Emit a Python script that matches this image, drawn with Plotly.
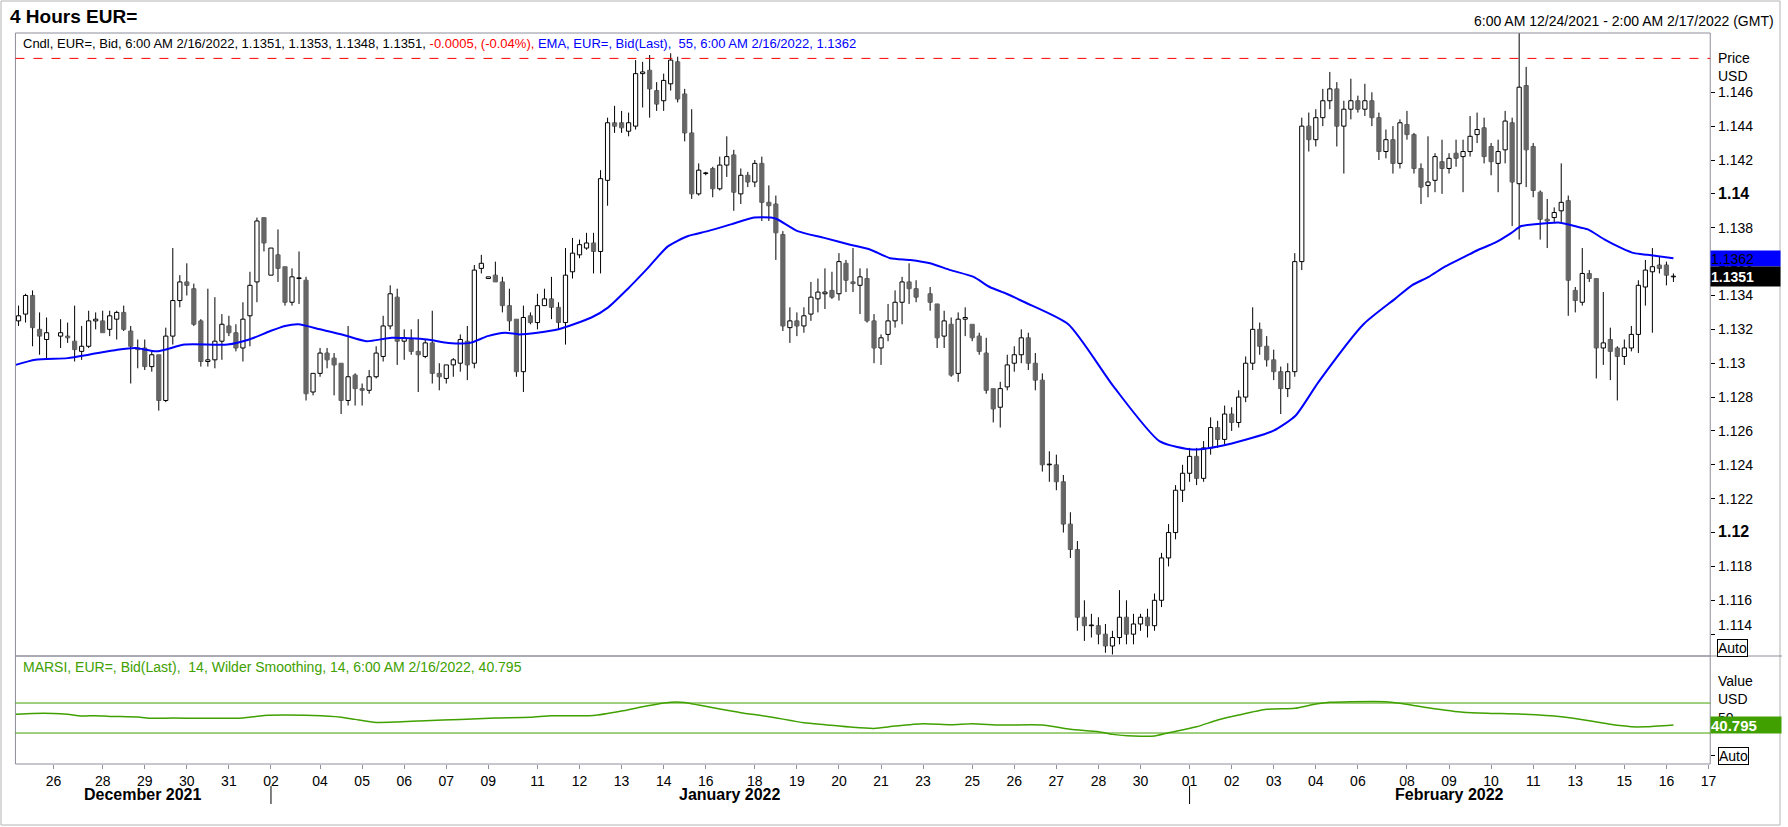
import pandas as pd
import plotly.graph_objects as go

W, H = 1788, 827

# 4-hour bar slots (bars end at 02,06,...,22 GMT); Saturday skipped, Sunday only 22:00
slot_times = pd.date_range("2021-12-24 06:00", "2022-02-17 02:00", freq="4h")
slot_times = [t for t in slot_times if t.weekday() < 5 or (t.weekday() == 6 and t.hour == 22)]

# candle values per slot (None = no bar)
opens = [
    1.1325, 1.1329, 1.1340, 1.1320, 1.1314,
    None,
    1.1316, 1.1316, 1.1313, 1.1307, 1.1310, 1.1325,
    1.1325, 1.1320, 1.1326, 1.1330, 1.1319, 1.1309,
    1.1309, 1.1298, 1.1305, 1.1278, 1.1316, 1.1337,
    1.1348, 1.1344, 1.1325, 1.1301, 1.1302, 1.1313,
    1.1322, 1.1318, 1.1309, 1.1328, 1.1348, 1.1386,
    1.1352,
    1.1364, 1.1357, 1.1336, 1.1350, 1.1349, 1.1283,
    1.1294, 1.1306, 1.1303, 1.1300, 1.1278, 1.1293,
    1.1285, 1.1284, 1.1292, 1.1304, 1.1322, 1.1339,
    1.1313, 1.1314, 1.1307, 1.1304, 1.1312, 1.1294,
    1.1291, 1.1299, 1.1300, 1.1313, 1.1300, 1.1356,
    1.1350,
    1.1352, 1.1348, 1.1334, 1.1326, 1.1295, 1.1328,
    1.1324, 1.1334, 1.1338, 1.1333, 1.1324, 1.1354,
    1.1364, 1.1368, 1.1371, 1.1366, 1.1408, 1.1442,
    1.1442, 1.1437, 1.1440, 1.1471, 1.1473, 1.1461,
    1.1455, 1.1465, 1.1478, 1.1459, 1.1436, 1.1400,
    1.1412,
    1.1415, 1.1403, 1.1417, 1.1423, 1.1400, 1.1411,
    1.1407, 1.1418, 1.1395, 1.1394, 1.1376, 1.1321,
    1.1325, 1.1322, 1.1329, 1.1338, 1.1341, 1.1343,
    1.1341, 1.1359, 1.1348, 1.1346, 1.1350, 1.1325,
    1.1309, 1.1317, 1.1325, 1.1336, 1.1348, 1.1344,
    None,
    1.1341, 1.1335, 1.1316, 1.1323, 1.1294, 1.1326,
    1.1323, 1.1316, 1.1306, 1.1285, 1.1274, 1.1286,
    1.1300, 1.1305, 1.1315, 1.1300, 1.1290, 1.1240,
    1.1240, 1.1230, 1.1205, 1.1190, 1.1150, 1.1145,
    1.1145, 1.1140, 1.1133, 1.1138, 1.1150, 1.1140,
    1.1146,
    1.1150, 1.1145, 1.1160, 1.1185, 1.1200, 1.1225,
    1.1235, 1.1245, 1.1232, 1.1250, 1.1262, 1.1255,
    1.1270, 1.1265, 1.1280, 1.1300, 1.1320, 1.1310,
    1.1302, 1.1295, 1.1285, 1.1295, 1.1360, 1.1440,
    1.1432, 1.1445, 1.1455, 1.1462, 1.1440, 1.1450,
    1.1455,
    1.1450, 1.1455, 1.1445, 1.1425, 1.1432, 1.1418,
    1.1441, 1.1435, 1.1415, 1.1405, 1.1408, 1.1419,
    1.1415, 1.1424, 1.1422, 1.1425, 1.1435, 1.1439,
    1.1428, 1.1418, 1.1426, 1.1442, 1.1406, 1.1464,
    1.1428, 1.1401, 1.1385, 1.1386, 1.1390, 1.1396,
    1.1343,
    1.1336, 1.1353, 1.1350, 1.1309, 1.1314, 1.1309,
    1.1304, 1.1309, 1.1317, 1.1345, 1.1354, 1.1358,
    1.1358, 1.1351,
]
highs = [
    1.1334, 1.1341, 1.1343, 1.1330, 1.1327,
    None,
    1.1326, 1.1324, 1.1334, 1.1322, 1.1331, 1.1330,
    1.1331, 1.1331, 1.1331, 1.1334, 1.1322, 1.1314,
    1.1314, 1.1307, 1.1305, 1.1321, 1.1368, 1.1352,
    1.1359, 1.1347, 1.1326, 1.1344, 1.1339, 1.1329,
    1.1328, 1.1323, 1.1336, 1.1354, 1.1386, 1.1386,
    1.1368,
    1.1379, 1.1357, 1.1356, 1.1366, 1.1351, 1.1294,
    1.1309, 1.1309, 1.1306, 1.1300, 1.1322, 1.1294,
    1.1288, 1.1296, 1.1310, 1.1328, 1.1346, 1.1344,
    1.1320, 1.1320, 1.1326, 1.1314, 1.1331, 1.1300,
    1.1299, 1.1303, 1.1317, 1.1322, 1.1358, 1.1364,
    1.1351,
    1.1360, 1.1351, 1.1344, 1.1326, 1.1334, 1.1330,
    1.1341, 1.1344, 1.1351, 1.1336, 1.1368, 1.1374,
    1.1373, 1.1377, 1.1377, 1.1414, 1.1445, 1.1452,
    1.1449, 1.1448, 1.1479, 1.1478, 1.1482, 1.1466,
    1.1471, 1.1483, 1.1481, 1.1462, 1.1450, 1.1418,
    1.1413,
    1.1416, 1.1422, 1.1434, 1.1426, 1.1415, 1.1413,
    1.1420, 1.1422, 1.1405, 1.1399, 1.1378, 1.1333,
    1.1330, 1.1333, 1.1348, 1.1350, 1.1356, 1.1354,
    1.1365, 1.1361, 1.1368, 1.1356, 1.1356, 1.1329,
    1.1317, 1.1335, 1.1343, 1.1351, 1.1359, 1.1349,
    None,
    1.1345, 1.1335, 1.1331, 1.1327, 1.1330, 1.1333,
    1.1323, 1.1318, 1.1315, 1.1285, 1.1289, 1.1305,
    1.1310, 1.1320, 1.1318, 1.1306, 1.1294, 1.1248,
    1.1246, 1.1234, 1.1212, 1.1195, 1.1160, 1.1152,
    1.1150, 1.1146, 1.1142, 1.1166, 1.1160, 1.1152,
    1.1152,
    1.1155, 1.1164, 1.1188, 1.1205, 1.1228, 1.1240,
    1.1250, 1.1250, 1.1254, 1.1268, 1.1266, 1.1275,
    1.1274, 1.1284, 1.1304, 1.1333, 1.1324, 1.1316,
    1.1308, 1.1298, 1.1300, 1.1365, 1.1445, 1.1448,
    1.1450, 1.1462, 1.1472, 1.1466, 1.1455, 1.1468,
    1.1458,
    1.1465, 1.1460, 1.1448, 1.1438, 1.1440, 1.1444,
    1.1449, 1.1436, 1.1418, 1.1434, 1.1424, 1.1432,
    1.1424, 1.1432, 1.1432, 1.1446, 1.1448, 1.1445,
    1.1430, 1.1432, 1.1449, 1.1445, 1.1495, 1.1475,
    1.1430, 1.1402, 1.1397, 1.1392, 1.1418, 1.1399,
    1.1345,
    1.1368, 1.1355, 1.1350, 1.1342, 1.1321, 1.1310,
    1.1314, 1.1322, 1.1349, 1.1361, 1.1368, 1.1363,
    1.1360, 1.1353,
]
lows = [
    1.1322, 1.1324, 1.1310, 1.1305, 1.1302,
    None,
    1.1309, 1.1312, 1.1301, 1.1302, 1.1309, 1.1320,
    1.1318, 1.1316, 1.1314, 1.1319, 1.1288, 1.1297,
    1.1296, 1.1295, 1.1272, 1.1277, 1.1311, 1.1333,
    1.1340, 1.1322, 1.1298, 1.1298, 1.1297, 1.1302,
    1.1316, 1.1307, 1.1301, 1.1310, 1.1336, 1.1366,
    1.1352,
    1.1348, 1.1334, 1.1334, 1.1335, 1.1278, 1.1281,
    1.1292, 1.1297, 1.1281, 1.1270, 1.1275, 1.1275,
    1.1275, 1.1282, 1.1291, 1.1301, 1.1320, 1.1299,
    1.1302, 1.1305, 1.1283, 1.1303, 1.1288, 1.1284,
    1.1288, 1.1292, 1.1295, 1.1290, 1.1297, 1.1353,
    1.1350,
    1.1348, 1.1330, 1.1319, 1.1292, 1.1283, 1.1323,
    1.1320, 1.1334, 1.1326, 1.1320, 1.1311, 1.1350,
    1.1362, 1.1367, 1.1353, 1.1353, 1.1393, 1.1436,
    1.1436, 1.1434, 1.1438, 1.1451, 1.1445, 1.1449,
    1.1449, 1.1461, 1.1454, 1.1431, 1.1397, 1.1399,
    1.1411,
    1.1398, 1.1402, 1.1410, 1.1390, 1.1394, 1.1404,
    1.1404, 1.1384, 1.1384, 1.1361, 1.1319, 1.1312,
    1.1316, 1.1318, 1.1325, 1.1330, 1.1332, 1.1338,
    1.1337, 1.1342, 1.1342, 1.1329, 1.1324, 1.1300,
    1.1299, 1.1313, 1.1321, 1.1323, 1.1335, 1.1336,
    None,
    1.1331, 1.1309, 1.1309, 1.1292, 1.1289, 1.1316,
    1.1313, 1.1305, 1.1282, 1.1265, 1.1262, 1.1284,
    1.1295, 1.1300, 1.1296, 1.1284, 1.1236, 1.1230,
    1.1225, 1.1200, 1.1185, 1.1142, 1.1136, 1.1138,
    1.1134, 1.1129, 1.1128, 1.1134, 1.1134, 1.1134,
    1.1142,
    1.1138, 1.1142, 1.1156, 1.1180, 1.1196, 1.1218,
    1.1230, 1.1228, 1.1230, 1.1246, 1.1250, 1.1252,
    1.1260, 1.1262, 1.1277, 1.1296, 1.1305, 1.1298,
    1.1290, 1.1270, 1.1280, 1.1292, 1.1355, 1.1425,
    1.1428, 1.1440, 1.1450, 1.1428, 1.1412, 1.1444,
    1.1448,
    1.1446, 1.1440, 1.1420, 1.1421, 1.1412, 1.1415,
    1.1432, 1.1412, 1.1394, 1.1398, 1.1401, 1.1400,
    1.1412, 1.1416, 1.1401, 1.1422, 1.1430, 1.1418,
    1.1411, 1.1401, 1.1418, 1.1381, 1.1373, 1.1404,
    1.1398, 1.1373, 1.1368, 1.1383, 1.1383, 1.1328,
    1.1330,
    1.1334, 1.1348, 1.1291, 1.1299, 1.1290, 1.1278,
    1.1299, 1.1307, 1.1306, 1.1334, 1.1318, 1.1353,
    1.1346, 1.1348,
]
closes = [
    1.1328, 1.1340, 1.1321, 1.1316, 1.1318,
    None,
    1.1318, 1.1315, 1.1308, 1.1310, 1.1325, 1.1326,
    1.1318, 1.1328, 1.1330, 1.1320, 1.1310, 1.1308,
    1.1298, 1.1305, 1.1278, 1.1316, 1.1337, 1.1348,
    1.1346, 1.1323, 1.1301, 1.1302, 1.1313, 1.1323,
    1.1318, 1.1309, 1.1326, 1.1346, 1.1384, 1.1371,
    1.1368,
    1.1356, 1.1336, 1.1351, 1.1350, 1.1282, 1.1294,
    1.1306, 1.1302, 1.1299, 1.1278, 1.1292, 1.1285,
    1.1284, 1.1292, 1.1306, 1.1322, 1.1341, 1.1313,
    1.1315, 1.1307, 1.1305, 1.1312, 1.1294, 1.1292,
    1.1299, 1.1302, 1.1314, 1.1299, 1.1355, 1.1359,
    1.1351,
    1.1348, 1.1334, 1.1325, 1.1295, 1.1327, 1.1324,
    1.1334, 1.1338, 1.1333, 1.1324, 1.1352, 1.1365,
    1.1370, 1.1371, 1.1366, 1.1409, 1.1442, 1.1440,
    1.1439, 1.1442, 1.1471, 1.1472, 1.1462, 1.1453,
    1.1467, 1.1479, 1.1456, 1.1436, 1.1400, 1.1414,
    1.1412,
    1.1403, 1.1417, 1.1422, 1.1401, 1.1411, 1.1407,
    1.1418, 1.1395, 1.1393, 1.1377, 1.1322, 1.1325,
    1.1322, 1.1328, 1.1339, 1.1342, 1.1342, 1.1339,
    1.1360, 1.1349, 1.1347, 1.1351, 1.1325, 1.1309,
    1.1315, 1.1325, 1.1336, 1.1348, 1.1344, 1.1339,
    None,
    1.1336, 1.1315, 1.1325, 1.1293, 1.1326, 1.1327,
    1.1315, 1.1307, 1.1284, 1.1273, 1.1285, 1.1299,
    1.1305, 1.1315, 1.1300, 1.1290, 1.1240, 1.1240,
    1.1230, 1.1205, 1.1190, 1.1150, 1.1145, 1.1145,
    1.1140, 1.1133, 1.1138, 1.1150, 1.1140, 1.1146,
    1.1150,
    1.1145, 1.1160, 1.1185, 1.1200, 1.1225, 1.1235,
    1.1245, 1.1232, 1.1250, 1.1262, 1.1255, 1.1270,
    1.1265, 1.1280, 1.1300, 1.1320, 1.1310, 1.1302,
    1.1295, 1.1285, 1.1295, 1.1360, 1.1440, 1.1432,
    1.1445, 1.1455, 1.1462, 1.1440, 1.1450, 1.1455,
    1.1450,
    1.1455, 1.1445, 1.1425, 1.1432, 1.1418, 1.1442,
    1.1435, 1.1415, 1.1404, 1.1407, 1.1422, 1.1415,
    1.1421, 1.1421, 1.1425, 1.1434, 1.1438, 1.1422,
    1.1419, 1.1425, 1.1443, 1.1407, 1.1463, 1.1426,
    1.1402, 1.1385, 1.1384, 1.1389, 1.1395, 1.1349,
    1.1337,
    1.1353, 1.1350, 1.1309, 1.1312, 1.1307, 1.1304,
    1.1309, 1.1317, 1.1346, 1.1355, 1.1357, 1.1356,
    1.1352, 1.1351,
]

# EMA(55) (slot, value)
ema_bar = [-0.4, 2.4, 7, 10, 14.1, 16.7, 19.7, 23.7, 29.8, 32.9, 35.9, 38, 39.9, 43, 46.1,
           49.6, 53.2, 58.3, 61.3, 64.4, 66.9, 69.4, 71.4, 74, 77, 81.7, 84.1, 86.9, 89.7,
           92.6, 95.4, 98.3, 101.6, 104.9, 107.3, 108.2, 111.1, 114.9, 118.6, 121.5, 124.3,
           127.2, 130, 132.9, 136.2, 138.5, 140.9, 143.5, 149.7, 156.2, 162.7, 167.5, 172.4,
           178.9, 182.1, 185.4, 191.8, 196.3, 198.7, 201.1, 203.4, 205.8, 208.2, 210.5, 212.9,
           214.3, 216.2, 219.8, 221.9, 223.8, 226.2, 228.6, 230.4, 232.3, 236]
ema_val = [1.1299, 1.1302, 1.1303, 1.1305, 1.1308, 1.1309, 1.1307, 1.1311, 1.1311, 1.1314,
           1.1319, 1.1322, 1.1323, 1.1320, 1.1317, 1.1313, 1.1315, 1.1314, 1.1312, 1.1312,
           1.1316, 1.1318, 1.1317, 1.1318, 1.1320, 1.1327, 1.1333, 1.1344, 1.1356, 1.1369,
           1.1375, 1.1378, 1.1382, 1.1386, 1.1386, 1.1385, 1.1378, 1.1374, 1.1370, 1.1367,
           1.1362, 1.1361, 1.1359, 1.1355, 1.1351, 1.1345, 1.1341, 1.1336, 1.1323, 1.1286,
           1.1254, 1.1249, 1.1252, 1.1260, 1.1269, 1.1289, 1.1323, 1.1338, 1.1346, 1.1351,
           1.1357, 1.1362, 1.1367, 1.1371, 1.1377, 1.1381, 1.1382, 1.1383, 1.1381, 1.1379,
           1.1373, 1.1368, 1.1365, 1.1364, 1.1362]

# MARSI(14) (slot, value)
rsi_bar = [-0.4, 2, 5, 7, 9, 11, 13, 17, 19, 22, 26, 32, 35, 42, 46, 48, 51, 54, 58, 63, 68,
           73, 76, 82, 86, 89, 93, 95, 97, 100, 103, 107, 112, 115, 119, 122, 125, 129, 133,
           136, 140, 146, 150, 154, 156, 159, 162, 164, 168, 171, 174, 178, 182, 185, 187,
           190, 195, 197, 201, 206, 210, 214, 220, 224, 227, 230, 232, 236]
rsi_val = [54.9, 56.2, 56.2, 54.9, 52.7, 53.1, 52.2, 51.3, 49.6, 50.0, 49.6, 50.0, 53.3, 53.3,
           51.1, 48.2, 44.2, 44.7, 46.4, 48.2, 50.0, 50.9, 53.1, 53.3, 59.3, 65.1, 71.0, 70.7,
           67.3, 62.0, 57.1, 51.8, 43.8, 41.1, 37.6, 36.2, 39.3, 42.4, 41.1, 42.4, 40.7, 40.7,
           34.9, 31.8, 28.2, 26.0, 26.0, 30.4, 38.4, 47.3, 54.0, 61.6, 62.9, 68.7, 71.0, 71.8,
           71.8, 69.6, 63.7, 57.6, 56.2, 55.3, 51.8, 46.4, 41.6, 38.4, 38.4, 40.795]
rsi_levels = [70, 30]

ref_level = 1.1480  # red dashed line

price_ticks = [1.114, 1.116, 1.118, 1.12, 1.122, 1.124, 1.126, 1.128, 1.13, 1.132,
               1.134, 1.136, 1.138, 1.14, 1.142, 1.144, 1.146]
bold_ticks = [1.12, 1.14]

day_ticks = ["2021-12-26", "2021-12-28", "2021-12-29", "2021-12-30", "2021-12-31",
             "2022-01-02", "2022-01-04", "2022-01-05", "2022-01-06", "2022-01-07",
             "2022-01-09", "2022-01-11", "2022-01-12", "2022-01-13", "2022-01-14",
             "2022-01-16", "2022-01-18", "2022-01-19", "2022-01-20", "2022-01-21",
             "2022-01-23", "2022-01-25", "2022-01-26", "2022-01-27", "2022-01-28",
             "2022-01-30", "2022-02-01", "2022-02-02", "2022-02-03", "2022-02-04",
             "2022-02-06", "2022-02-08", "2022-02-09", "2022-02-10", "2022-02-11",
             "2022-02-13", "2022-02-15", "2022-02-16", "2022-02-17"]
months = [("2021-12", "December 2021"), ("2022-01", "January 2022"), ("2022-02", "February 2022")]

header = ("Cndl, EUR=, Bid, 6:00 AM 2/16/2022, 1.1351, 1.1353, 1.1348, 1.1351, "
          "<span style='color:#ff0000'>-0.0005, (-0.04%),</span> "
          "<span style='color:#0000ff'>EMA, EUR=, Bid(Last),  55, 6:00 AM 2/16/2022, 1.1362</span>")
rsi_header = "MARSI, EUR=, Bid(Last),  14, Wilder Smoothing, 14, 6:00 AM 2/16/2022, 40.795"

# ---------------------------------------------------------------
FONT = "Liberation Sans, Arial, sans-serif"
FRAME = "#8e8e9c"
GREEN = "#40a000"
GRAY = "#666666"


def px(x):
    return x / W


def py(y):
    return 1 - y / H


def first_slot(day):
    d = pd.Timestamp(day).date()
    return next(i for i, t in enumerate(slot_times) if t.date() >= d)


x_range = [-0.44, len(slot_times) - 0.75]

# candles
idx = [i for i, c in enumerate(closes) if c is not None]
wx, wy = [], []
body_x, body_base, body_h, fills, edges = [], [], [], [], []
for i in idx:
    o, h, l, c = opens[i], highs[i], lows[i], closes[i]
    top, bot = max(o, c), min(o, c)
    wx += [i, i, None, i, i, None]
    wy += [top, h, None, bot, l, None]
    body_x.append(i)
    body_base.append(bot)
    body_h.append(max(top - bot, 0.00004))
    up = c >= o
    fills.append("white" if up else GRAY)
    edges.append("black" if up else GRAY)

fig = go.Figure()
fig.add_trace(go.Bar(x=body_x, y=body_h, base=body_base, width=0.6,
                     marker=dict(color=fills, line=dict(color=edges, width=1)),
                     xaxis="x", yaxis="y", hoverinfo="skip"))
fig.add_trace(go.Scatter(x=wx, y=wy, mode="lines", line=dict(color="black", width=1),
                         xaxis="x", yaxis="y", hoverinfo="skip"))
fig.add_trace(go.Scatter(x=ema_bar, y=ema_val, mode="lines",
                         line=dict(color="#0000ff", width=2, shape="spline", smoothing=0.6),
                         xaxis="x", yaxis="y", hoverinfo="skip"))
fig.add_trace(go.Scatter(x=rsi_bar, y=rsi_val, mode="lines",
                         line=dict(color=GREEN, width=1.5, shape="spline", smoothing=0.6),
                         xaxis="x2", yaxis="y2", hoverinfo="skip"))

# axes ticks
ptext = []
for v in price_ticks:
    t = f"{v:g}"
    if v in bold_ticks:
        t = f"<span style='font-size:16px'><b>{t}</b></span>"
    if v == price_ticks[0]:
        t = t + "<br>&nbsp;"  # lowest label sits above its tick, as in the original
    ptext.append(t)
dpos = [first_slot(d) for d in day_ticks]
dtext = [pd.Timestamp(d).strftime("%d") for d in day_ticks]

shapes = []
# month separators and labels
annotations = []
starts = [first_slot(m + "-01") if m != "2021-12" else None for m, _ in months]
for k, (m, name) in enumerate(months):
    lo = x_range[0] if starts[k] is None else starts[k]
    hi = starts[k + 1] if k + 1 < len(months) else x_range[1]
    if starts[k] is not None:
        shapes.append(dict(type="line", xref="x2", yref="paper", x0=starts[k], x1=starts[k],
                           y0=py(786), y1=py(804), line=dict(color="black", width=1)))
    annotations.append(dict(x=(lo + hi) / 2, y=py(794), xref="x2", yref="paper", text=f"<b>{name}</b>",
                            showarrow=False, font=dict(size=16, color="black"), yanchor="middle"))

# frames
shapes += [
    dict(type="rect", xref="paper", yref="paper", x0=px(1), x1=px(1786), y0=py(825), y1=py(1),
         line=dict(color="#b4b4b4", width=1)),
    dict(type="rect", xref="paper", yref="paper", x0=px(15.5), x1=px(1716), y0=py(656), y1=py(33),
         line=dict(color=FRAME, width=1)),
    dict(type="rect", xref="paper", yref="paper", x0=px(15.5), x1=px(1716), y0=py(764), y1=py(656),
         line=dict(color=FRAME, width=1)),
    dict(type="line", xref="paper", yref="paper", x0=px(1716), x1=px(1788), y0=py(656), y1=py(656),
         line=dict(color=FRAME, width=1)),
    dict(type="line", xref="paper", yref="y", x0=px(15.5), x1=px(1716), y0=ref_level, y1=ref_level,
         line=dict(color="#ff0000", width=1, dash="dash")),
]
for lv in rsi_levels:
    shapes.append(dict(type="line", xref="paper", yref="y2", x0=px(15.5), x1=px(1716), y0=lv, y1=lv,
                       line=dict(color=GREEN, width=1)))

annotations += [
    dict(x=px(8), y=py(16.5), xref="paper", yref="paper", text="<b>4 Hours EUR=</b>", showarrow=False,
         xanchor="left", yanchor="middle", font=dict(size=19, color="black")),
    dict(x=px(1782), y=py(21), xref="paper", yref="paper",
         text="6:00 AM 12/24/2021 - 2:00 AM 2/17/2022 (GMT)", showarrow=False,
         xanchor="right", yanchor="middle", font=dict(size=14, color="black")),
    dict(x=px(21), y=py(43), xref="paper", yref="paper", text=header, showarrow=False,
         xanchor="left", yanchor="middle", font=dict(size=13, color="black")),
    dict(x=px(21), y=py(667), xref="paper", yref="paper", text=rsi_header, showarrow=False,
         xanchor="left", yanchor="middle", font=dict(size=14, color=GREEN)),
    dict(x=px(1722), y=py(58), xref="paper", yref="paper", text="Price", showarrow=False,
         xanchor="left", yanchor="middle", font=dict(size=14, color="black")),
    dict(x=px(1722), y=py(76), xref="paper", yref="paper", text="USD", showarrow=False,
         xanchor="left", yanchor="middle", font=dict(size=14, color="black")),
    dict(x=px(1722), y=py(681), xref="paper", yref="paper", text="Value", showarrow=False,
         xanchor="left", yanchor="middle", font=dict(size=14, color="black")),
    dict(x=px(1722), y=py(699), xref="paper", yref="paper", text="USD", showarrow=False,
         xanchor="left", yanchor="middle", font=dict(size=14, color="black")),
    dict(x=px(1723), y=py(647.5), xref="paper", yref="paper", text="Auto", showarrow=False,
         xanchor="left", yanchor="middle", font=dict(size=14, color="black"),
         bordercolor="black", borderwidth=1, borderpad=0, bgcolor="white"),
    dict(x=px(1724), y=py(756), xref="paper", yref="paper", text="Auto", showarrow=False,
         xanchor="left", yanchor="middle", font=dict(size=14, color="black"),
         bordercolor="black", borderwidth=1, borderpad=0, bgcolor="white"),
    dict(x=px(1716), y=ema_val[-1], xref="paper", yref="y", text=f"{ema_val[-1]:.4f}", showarrow=False,
         xanchor="left", yanchor="middle", width=69, height=15, align="left", borderpad=0,
         bgcolor="#0000ff", font=dict(size=14, color="black")),
    dict(x=px(1716), y=closes[-1], xref="paper", yref="y", text=f"<b>{closes[-1]:.4f}</b>",
         showarrow=False, xanchor="left", yanchor="middle", width=69, height=19, align="left",
         borderpad=0, bgcolor="black", font=dict(size=14, color="white")),
    dict(x=px(1716), y=rsi_val[-1], xref="paper", yref="y2", text=f"<b>{rsi_val[-1]:.3f}</b>",
         showarrow=False, xanchor="left", yanchor="middle", width=70, height=16, align="left",
         borderpad=0, bgcolor=GREEN, font=dict(size=15, color="white")),
]

fig.update_layout(
    width=W, height=H, autosize=False,
    margin=dict(l=0, r=0, t=0, b=0),
    paper_bgcolor="white", plot_bgcolor="white",
    showlegend=False,
    font=dict(family=FONT, size=14, color="black"),
    xaxis=dict(domain=[px(15.5), px(1716)], range=x_range, anchor="y", showticklabels=False,
               ticks="", showgrid=False, zeroline=False, showline=False),
    yaxis=dict(domain=[py(656), py(33)], range=[1.11271, 1.14950], anchor="x", side="right",
               tickmode="array", tickvals=price_ticks, ticktext=ptext, ticks="outside", ticklen=4,
               tickcolor="black", showgrid=False, zeroline=False, showline=False,
               tickfont=dict(size=14, color="black")),
    xaxis2=dict(domain=[px(15.5), px(1716)], range=x_range, anchor="y2", tickmode="array",
                tickvals=dpos, ticktext=dtext, ticks="outside", ticklen=4, tickcolor=FRAME,
                showgrid=False, zeroline=False, showline=False,
                tickfont=dict(size=14, color="black")),
    yaxis2=dict(domain=[py(764), py(656)], range=[-11.3, 132.7], anchor="x2", side="right",
                tickmode="array", tickvals=[0, 50], ticktext=["", "50"], ticks="outside", ticklen=4,
                tickcolor="black", showgrid=False, zeroline=False, showline=False,
                tickfont=dict(size=14, color="black")),
    shapes=shapes,
    annotations=annotations,
)

fig.write_html("out.html", config={"displayModeBar": False},
               post_script="document.body.style.margin='0';document.body.style.overflow='hidden';")
